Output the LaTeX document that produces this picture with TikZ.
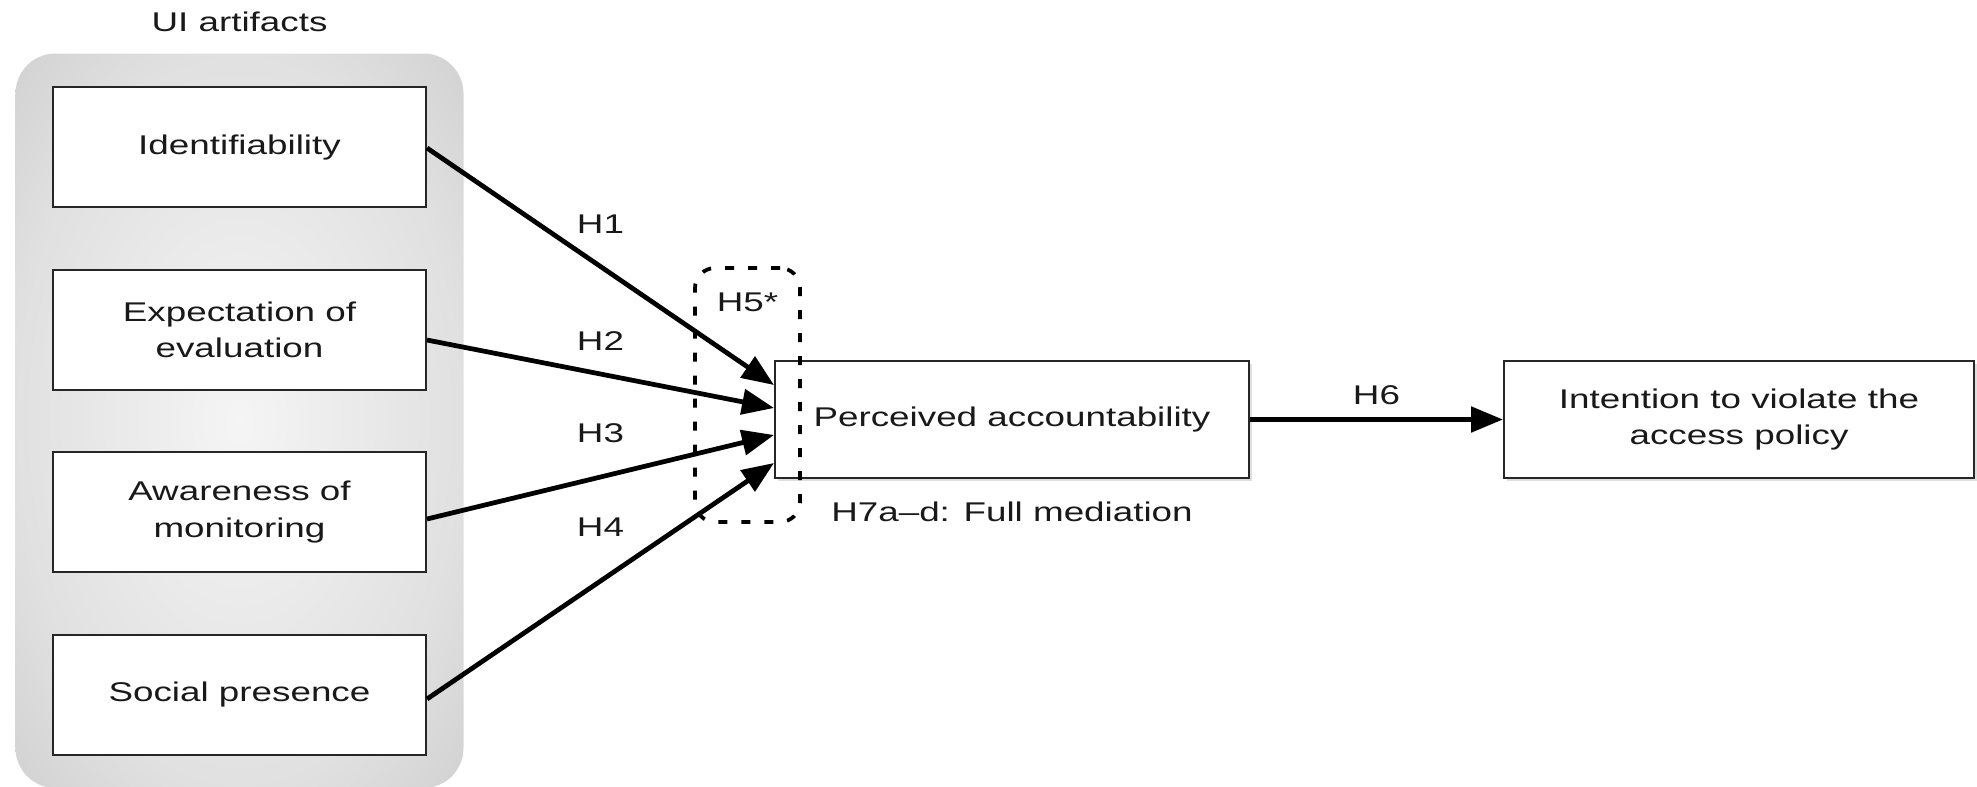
\documentclass[tikz,border=0pt]{standalone}
\usepackage{fontspec}
\setmainfont{Liberation Sans}[FakeStretch=1.36]
\usetikzlibrary{arrows.meta, positioning, fit, backgrounds, shadows}
\pgfdeclareradialshading{uiglow}{\pgfpoint{0bp}{0bp}}{color(0bp)=(gray!8); color(25bp)=(gray!24);
  color(50bp)=(gray!52); color(72bp)=(gray!68)}
\newcommand{\boxfont}{\fontsize{15.4pt}{20.5pt}\selectfont}
\tikzset{
  ubox/.style   = {draw=black!85, line width=0.4mm, fill=white, align=center, inner sep=2pt,
                   font=\boxfont, text=black!90, minimum width=74.6mm, minimum height=24mm},
  cbox/.style   = {ubox, minimum width=94.8mm, minimum height=23.4mm,
                   drop shadow={shadow xshift=0.5mm, shadow yshift=-0.5mm, opacity=0.25}},
  grpbox/.style = {shade, shading=uiglow, rounded corners=8mm, inner xsep=7.3mm, inner ysep=6.5mm},
  modbox/.style = {draw=black, line width=0.75mm, dash pattern=on 1.8mm off 2.8mm, rounded corners=4mm,
                   minimum width=21mm, minimum height=50.8mm, inner sep=0pt},
  fl/.style     = {-{Triangle[length=6.4mm, width=5mm]}, line width=0.95mm, draw=black},
  hlab/.style   = {font=\boxfont, text=black!90, inner sep=0pt},
}

\begin{document}
\begin{tikzpicture}[x=0.2mm, y=-0.2mm, node distance=12.1mm and 50.6mm]
\useasboundingbox (0,0) rectangle (1977,786);
% --- the four UI artifacts, stacked in their shaded group --------------------------
\node[ubox] (idf) at (239.5,147) {Identifiability};
\node[ubox, below=of idf] (exp) {Expectation of\\evaluation};
\node[ubox, below=of exp] (awm) {Awareness of\\monitoring};
\node[ubox, below=of awm] (soc) {Social presence};
\begin{scope}[on background layer]
  \node[grpbox, fit=(idf)(soc)] (grp) {};
\end{scope}
\node[hlab, anchor=base] (uilab) at ([yshift=4.4mm]grp.north) {UI artifacts};

% --- mediator and outcome ------------------------------------------------------------
\node[cbox] (pa) at (1012,419.5) {Perceived accountability};
\node[cbox, right=of pa, minimum width=94mm] (int) {Intention to violate the\\access policy};

% moderation marker round the arrow heads
\node[modbox] (mod) at (747.5,395) {};
\node[hlab, anchor=base] (h5) at ([yshift=-9mm]mod.north) {H5*};

% hypotheses H1--H4
\draw[fl] ([yshift=-0.2mm]idf.east) -- ([yshift=6.9mm]pa.west)
  node[hlab, pos=0.5, above=6.2mm] (h1) {H1};
\draw[fl] ([yshift=-2.1mm]exp.east) -- ([yshift=2.3mm]pa.west)
  node[hlab, pos=0.5, above=4.3mm] (h2) {H2};
\draw[fl] ([yshift=-1.4mm]awm.east) -- ([yshift=-3.1mm]pa.west)
  node[hlab, pos=0.5, above=6.4mm] (h3) {H3};
\draw[fl] ([yshift=-0.9mm]soc.east) -- ([yshift=-8.7mm]pa.west)
  node[hlab, pos=0.5, above=8.5mm] (h4) {H4};
% H6 and the mediation note
\draw[fl, line width=1.05mm] (pa) -- (int) node[hlab, midway, above=2.4mm] (h6) {H6};
\node[hlab, anchor=base] (h7) at ([yshift=-8.4mm]pa.south) {H7a--d: Full mediation};
\end{tikzpicture}
\end{document}
